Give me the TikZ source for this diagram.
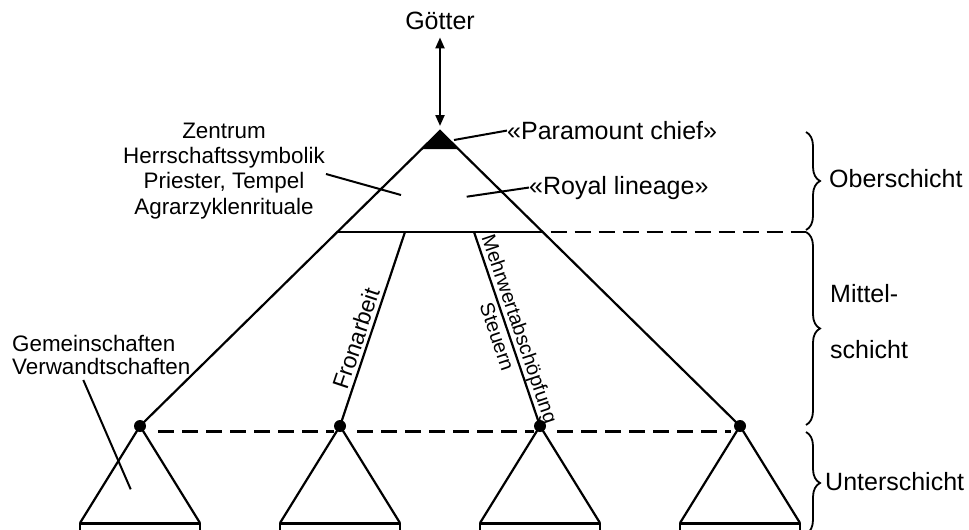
\documentclass[tikz,border=0pt]{standalone}
\usepackage{fontspec}
\setmainfont{Liberation Sans}
\usetikzlibrary{arrows.meta,decorations.pathreplacing}
\begin{document}
\begin{tikzpicture}[x=1pt,y=-1pt,
  ln/.style={line width=2.2pt},
  baseln/.style={line width=3pt},
  leader/.style={line width=2pt},
  dashln/.style={line width=2.3pt, dash pattern=on 16pt off 8pt},
  dotnode/.style={circle, fill=black, inner sep=0pt, minimum size=12pt},
  txtL/.style={inner sep=0pt, font=\fontsize{25}{30}\selectfont},
  txtM/.style={inner sep=0pt, font=\fontsize{22.4}{25}\selectfont},
  txtF/.style={inner sep=0pt, font=\fontsize{23}{27}\selectfont},
  txtS/.style={inner sep=0pt, font=\fontsize{20}{20.5}\selectfont},
  arr/.style={line width=2.2pt, {Triangle[length=11pt,width=9pt]}-{Triangle[length=11pt,width=9pt]}},
  bracest/.style={line width=1.8pt, decorate, decoration={brace, amplitude=14pt}}]
\clip (0,0) rectangle (969,530);

% key points
\coordinate (apex) at (440,131);
\coordinate (tipL) at (421.7,149);
\coordinate (tipR) at (458.3,149);
\coordinate (ul) at (337.5,232);
\coordinate (ur) at (542.5,232);
\coordinate (f1) at (405,232);
\coordinate (m1) at (474,232);

% dots
\node[dotnode] (d1) at (140,426) {};
\node[dotnode] (d2) at (340,426) {};
\node[dotnode] (d3) at (540,426) {};
\node[dotnode] (d4) at (740,426) {};

% big triangle
\draw[ln] (d1.center) -- (apex) -- (d4.center);
\fill (apex) -- (tipL) -- (tipR) -- cycle;
\draw[ln] (ul) -- (ur);
\draw[ln] (f1) -- node[txtF, sloped, above=3pt, pos=0.57] (fron) {Fronarbeit} (d2.center);
\draw[ln] (m1) -- node[txtS, sloped, above=0pt, pos=0.52] (mehr1) {Mehrwertabschöpfung}
                   node[txtS, sloped, below=3.5pt, pos=0.52] (mehr2) {Steuern} (d3.center);

% small triangles
\foreach \i/\x in {1/140,2/340,3/540,4/740}{
  \coordinate (bl\i) at (\x-60,523);
  \coordinate (br\i) at (\x+60,523);
  \draw[ln] (bl\i) -- (d\i.center) -- (br\i);
  \draw[baseln] (bl\i) -- (br\i);
  \draw[ln] (bl\i) -- ++(0,8.5) -- ++(120,0) -- (br\i);
}

% dashed lines
\coordinate (obr) at (806,232);
\draw[dashln, dash phase=16pt] (ur) -- (obr);
\coordinate (s1a) at (158,431.5); \coordinate (s1b) at (334,431.5);
\coordinate (s2a) at (357,431.5); \coordinate (s2b) at (534,431.5);
\coordinate (s3a) at (557,431.5); \coordinate (s3b) at (731,431.5);
\draw[dashln] (s1a) -- (s1b);
\draw[dashln] (s2a) -- (s2b);
\draw[dashln] (s3a) -- (s3b);

% Goetter
\node[txtL, anchor=base] (goetter) at (440,29) {Götter};
\draw[arr] ([yshift=-8pt]goetter.south) -- ([yshift=5pt]apex);

% labels at top
\node[txtL, anchor=base west] (pc) at (507,139.5) {«Paramount chief»};
\coordinate (pctip) at (454,140);
\draw[leader] (pc.west) -- (pctip);
\node[txtL, anchor=base west] (rl) at (529,194) {«Royal lineage»};
\coordinate (rltip) at (466.7,196.7);
\draw[leader] (rl.west) -- (rltip);

\node[txtM, anchor=base] (z1) at (224,138.3) {Zentrum};
\node[txtM, anchor=base] (z2) at (224,163.5) {Herrschaftssymbolik};
\node[txtM, anchor=base] (z3) at (224,188.7) {Priester, Tempel};
\node[txtM, anchor=base] (z4) at (224,214) {Agrarzyklenrituale};
\coordinate (zs) at (326,174);
\coordinate (zt) at (401,195);
\draw[leader] (zs) -- (zt);

\node[txtM, anchor=base west] (g1) at (12,351.7) {Gemeinschaften};
\node[txtM, anchor=base west] (g2) at (12,374.3) {Verwandtschaften};
\coordinate (gs) at (83.3,380);
\coordinate (gt) at (130.7,489.3);
\draw[leader] (gs) -- (gt);

% braces
\coordinate (b1t) at (806,132); \coordinate (b1b) at (806,230);
\coordinate (b2t) at (806,232); \coordinate (b2b) at (806,425);
\coordinate (b3t) at (806,432); \coordinate (b3b) at (806,534);
\draw[bracest] (b1t) -- (b1b);
\draw[bracest] (b2t) -- (b2b);
\draw[bracest] (b3t) -- (b3b);

\node[txtL, anchor=base west] (ober) at (829,187.5) {Oberschicht};
\node[txtL, anchor=base west] (mit1) at (830,302) {Mittel-};
\node[txtL, anchor=base west] (mit2) at (830,358.5) {schicht};
\node[txtL, anchor=base west] (unter) at (825,490) {Unterschicht};
\end{tikzpicture}
\end{document}
